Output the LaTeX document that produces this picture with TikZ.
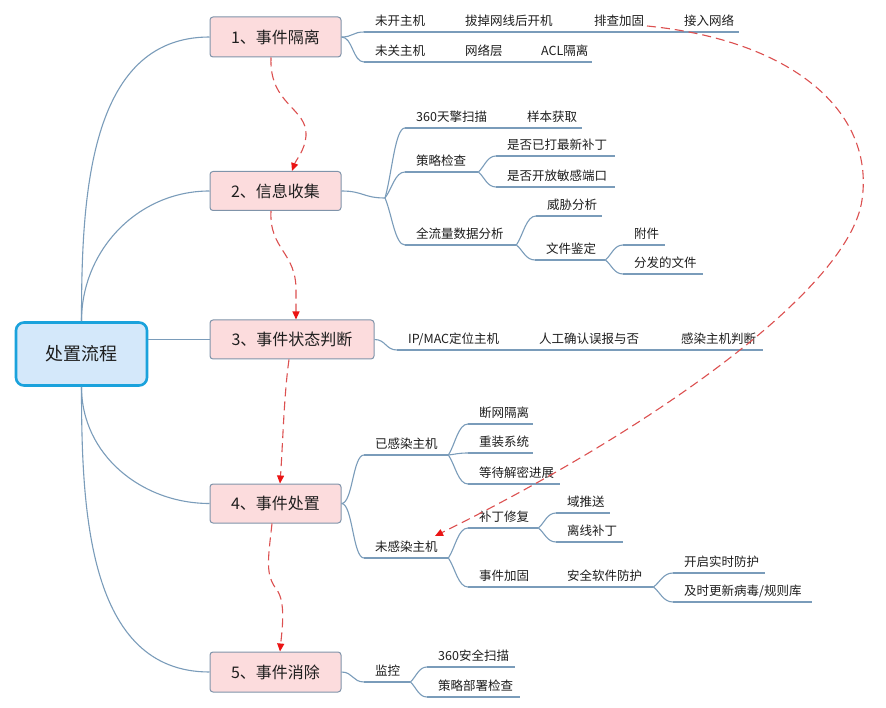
\documentclass[tikz,border=0pt]{standalone}
\usepackage{fontspec}
\setmainfont{Noto Sans CJK SC}
\usetikzlibrary{arrows.meta,calc}
\definecolor{linec}{RGB}{122,156,186}
\definecolor{boxfill}{RGB}{252,220,221}
\definecolor{boxborder}{RGB}{128,148,170}
\definecolor{rootfill}{RGB}{212,232,250}
\definecolor{rootborder}{RGB}{26,162,220}
\definecolor{dashc}{RGB}{220,80,80}
\definecolor{tipc}{RGB}{235,20,20}
\definecolor{textc}{RGB}{30,30,30}
\newcommand\lftx[2]{\makebox[#1pt][l]{\hspace*{11pt}#2}}
\begin{document}
\begin{tikzpicture}[x=1pt,y=-1pt,
  conn/.style={draw=linec,line width=1.1pt},
  fork/.style={to path={.. controls ($(\tikztostart)!0.35!(\tikztotarget)$) and ($(\tikztotarget)!0.5!(\tikztostart|-\tikztotarget)$) .. (\tikztotarget)}},
  scurve/.style={to path={.. controls ($(\tikztostart)!0.5!(\tikztotarget|-\tikztostart)$) and ($(\tikztotarget)!0.5!(\tikztostart|-\tikztotarget)$) .. (\tikztotarget)}},
  leaf/.style={anchor=south west,inner xsep=0pt,inner ysep=3.25pt,text height=10pt,text depth=3pt,font=\fontsize{12.5}{12.5}\selectfont,text=textc},
  stepbox/.style={draw=boxborder,fill=boxfill,line width=1pt,rounded corners=3pt,minimum height=39pt,minimum width=131pt,inner sep=0pt,font=\fontsize{16}{16}\selectfont,text=textc},
  rootbox/.style={draw=rootborder,fill=rootfill,line width=2.6pt,rounded corners=8pt,minimum width=131pt,minimum height=63pt,inner sep=0pt,font=\fontsize{18}{18}\selectfont,text=textc},
  flow/.style={draw=dashc,line width=1.1pt,dash pattern=on 9pt off 5pt,-{Triangle[length=8pt,width=7pt,color=tipc]}}
]
\fill[white] (0,0) rectangle (886,708);
\useasboundingbox (0,0) rectangle (886,708);

% main nodes
\node[rootbox] (root) at (81.5,354) {处置流程};
\node[stepbox,minimum height=40pt] (B1) at (275.5,37) {1、事件隔离};
\node[stepbox] (B2) at (275.5,191) {2、信息收集};
\node[stepbox,minimum width=164pt] (B3) at (292,339.5) {3、事件状态判断};
\node[stepbox] (B4) at (275.5,503.5) {4、事件处置};
\node[stepbox,minimum height=40pt] (B5) at (275.5,672) {5、事件消除};

% leaves
\node[leaf] (a1) at (364,32) {\lftx{90}{未开主机}};
\node[leaf] (a1b) at (454,32) {\lftx{129}{拔掉网线后开机}};
\node[leaf] (a1c) at (583,32) {\lftx{90}{排查加固}};
\node[leaf] (a1d) at (673,32) {\lftx{66}{接入网络}};
\node[leaf] (a2) at (364,62) {\lftx{90}{未关主机}};
\node[leaf] (a2b) at (454,62) {\lftx{76}{网络层}};
\node[leaf] (a2c) at (530,62) {\lftx{62}{ACL隔离}};

\node[leaf] (b1) at (405,128) {\lftx{111}{360天擎扫描}};
\node[leaf] (b1b) at (516,128) {\lftx{66}{样本获取}};
\node[leaf] (b2) at (405,172) {\lftx{73}{策略检查}};
\node[leaf] (b21) at (496,156) {\lftx{119}{是否已打最新补丁}};
\node[leaf] (b22) at (496,187) {\lftx{119}{是否开放敏感端口}};
\node[leaf] (b3) at (405,245) {\lftx{111}{全流量数据分析}};
\node[leaf] (b31) at (536,216) {\lftx{66}{威胁分析}};
\node[leaf] (b32) at (535,260) {\lftx{70}{文件鉴定}};
\node[leaf] (b321) at (623,245) {\lftx{42}{附件}};
\node[leaf] (b322) at (623,274) {\lftx{80}{分发的文件}};

\node[leaf] (c1) at (397,350) {\lftx{131}{IP/MAC定位主机}};
\node[leaf] (c2) at (528,350) {\lftx{142}{人工确认误报与否}};
\node[leaf] (c3) at (670,350) {\lftx{93}{感染主机判断}};

\node[leaf] (d1) at (364,455) {\lftx{84}{已感染主机}};
\node[leaf] (d11) at (468,424) {\lftx{65}{断网隔离}};
\node[leaf] (d12) at (468,453) {\lftx{65}{重装系统}};
\node[leaf] (d13) at (468,484) {\lftx{92}{等待解密进展}};
\node[leaf] (d2) at (364,558) {\lftx{84}{未感染主机}};
\node[leaf] (d21) at (468,528) {\lftx{70}{补丁修复}};
\node[leaf] (d211) at (556,513) {\lftx{54}{域推送}};
\node[leaf] (d212) at (556,542) {\lftx{67}{离线补丁}};
\node[leaf] (d22) at (468,587) {\lftx{88}{事件加固}};
\node[leaf] (d22b) at (556,587) {\lftx{97}{安全软件防护}};
\node[leaf] (d221) at (673,573) {\lftx{92}{开启实时防护}};
\node[leaf] (d222) at (673,602) {\lftx{139}{及时更新病毒/规则库}};

\node[leaf] (e1) at (364,682) {\lftx{46}{监控}};
\node[leaf] (e11) at (427,667) {\lftx{88}{360安全扫描}};
\node[leaf] (e12) at (427,697) {\lftx{93}{策略部署检查}};

\coordinate (j2) at (385,198);

% underlines
\foreach \n in {a1,a1b,a1c,a1d,a2,a2b,a2c,b1,b1b,b2,b21,b22,b3,b31,b32,b321,b322,c1,c2,c3,d1,d11,d12,d13,d2,d21,d211,d212,d22,d22b,d221,d222,e1,e11,e12}
  \draw[conn] (\n.south west) -- (\n.south east);

% root connectors
\draw[conn] (root.north) to[out=90,in=180] (B1.west);
\draw[conn] (root.north) to[out=90,in=180] (B2.west);
\draw[conn] (root.east |- B3.west) -- (B3.west);
\draw[conn] (root.south) to[out=-90,in=180] (B4.west);
\draw[conn] (root.south) to[out=-90,in=180] (B5.west);

% box connectors
\draw[conn] (B1.east) to[scurve] (a1.south west);
\draw[conn] (B1.east) to[scurve] (a2.south west);
\draw[conn] (B2.east) to[scurve] (j2);
\draw[conn] (j2) to[fork] (b1.south west);
\draw[conn] (j2) to[fork] (b2.south west);
\draw[conn] (j2) to[fork] (b3.south west);
\draw[conn] (b2.south east) to[fork] (b21.south west);
\draw[conn] (b2.south east) to[fork] (b22.south west);
\draw[conn] (b3.south east) to[fork] (b31.south west);
\draw[conn] (b3.south east) to[fork] (b32.south west);
\draw[conn] (b32.south east) to[fork] (b321.south west);
\draw[conn] (b32.south east) to[fork] (b322.south west);
\draw[conn] (B3.east) to[scurve] (c1.south west);
\draw[conn] (B4.east) to[scurve] (d1.south west);
\draw[conn] (B4.east) to[scurve] (d2.south west);
\draw[conn] (d1.south east) to[fork] (d11.south west);
\draw[conn] (d1.south east) to[fork] (d12.south west);
\draw[conn] (d1.south east) to[fork] (d13.south west);
\draw[conn] (d2.south east) to[fork] (d21.south west);
\draw[conn] (d2.south east) to[fork] (d22.south west);
\draw[conn] (d21.south east) to[fork] (d211.south west);
\draw[conn] (d21.south east) to[fork] (d212.south west);
\draw[conn] (d22b.south east) to[fork] (d221.south west);
\draw[conn] (d22b.south east) to[fork] (d222.south west);
\draw[conn] (B5.east) to[scurve] (e1.south west);
\draw[conn] (e1.south east) to[fork] (e11.south west);
\draw[conn] (e1.south east) to[fork] (e12.south west);

% flow arrows
\draw[flow] ([xshift=-4.5pt]B1.south) .. controls (269,105) and (308,108) .. (306,136) .. controls (305,150) and (296,160) .. ([xshift=16.5pt]B2.north);
\draw[flow] ([xshift=-4.5pt]B2.south) .. controls (269,250) and (297,252) .. (296,292) -- ([xshift=4pt]B3.north);
\draw[flow] ([xshift=-3pt]B3.south) .. controls (284,395) and (283,440) .. ([xshift=4.5pt]B4.north);
\draw[flow] ([xshift=-3.5pt]B4.south) .. controls (268,560) and (265,575) .. (277,590) .. controls (286,603) and (282,630) .. ([xshift=4.5pt]B5.north);
\draw[flow] ($(a1c.south west)+(64,-6)$) .. controls (790,40) and (875,110) .. (862,200) .. controls (849,290) and (650,430) .. ($(d2.south west)+(71,-22)$);
\end{tikzpicture}
\end{document}
